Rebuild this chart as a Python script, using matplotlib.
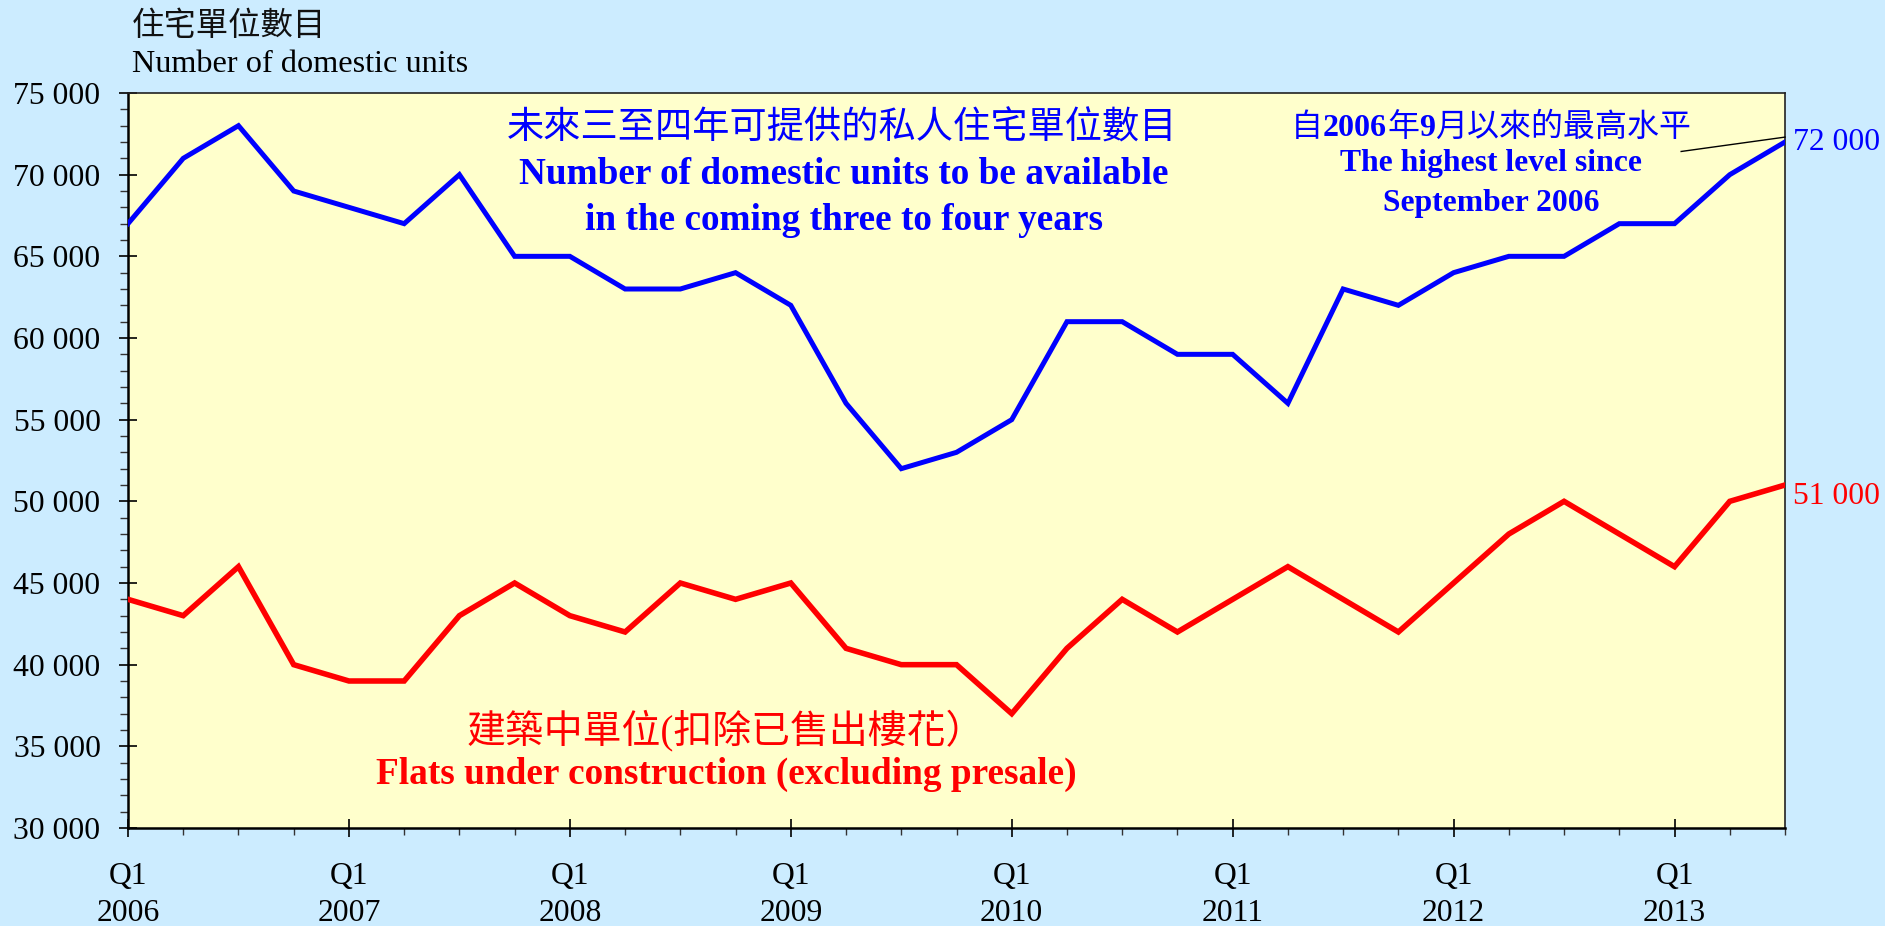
import matplotlib
matplotlib.use("Agg")
import matplotlib.pyplot as plt
from matplotlib.ticker import FixedLocator, MultipleLocator, FuncFormatter

# ---- data ----
years = [2006, 2007, 2008, 2009, 2010, 2011, 2012, 2013]
periods = [f"{y} Q{q}" for y in years for q in range(1, 5)][:31]
available = [67000, 71000, 73000, 69000,
             68000, 67000, 70000, 65000,
             65000, 63000, 63000, 64000,
             62000, 56000, 52000, 53000,
             55000, 61000, 61000, 59000,
             59000, 56000, 63000, 62000,
             64000, 65000, 65000, 67000,
             67000, 70000, 72000]
under_construction = [44000, 43000, 46000, 40000,
                      39000, 39000, 43000, 45000,
                      43000, 42000, 45000, 44000,
                      45000, 41000, 40000, 40000,
                      37000, 41000, 44000, 42000,
                      44000, 46000, 44000, 42000,
                      45000, 48000, 50000, 48000,
                      46000, 50000, 51000]
x_tick_labels = [f"Q1\n{y}" for y in years]

# ---- style ----
BG = "#CCECFF"
PLOT_BG = "#FFFFCC"
BLUE = "#0000FF"
RED = "#FF0000"
SERIF = ["Liberation Serif", "Noto Sans CJK TC"]
CJK = ["Noto Sans CJK TC", "Liberation Serif"]
plt.rcParams["font.family"] = SERIF

W, H = 1885, 926
fig = plt.figure(figsize=(W / 100, H / 100), dpi=100, facecolor=BG)
L, R, T, B = 128, 1785, 93, 828
ax = fig.add_axes([L / W, 1 - B / H, (R - L) / W, (B - T) / H])
ax.set_facecolor(PLOT_BG)

x = list(range(len(periods)))
ax.plot(x, available, color=BLUE, lw=3.6, solid_joinstyle="miter", zorder=3)
ax.plot(x, under_construction, color=RED, lw=4.0, solid_joinstyle="miter", zorder=3)

ax.set_xlim(0, len(periods) - 1)
ax.set_ylim(30000, 75000)

# y axis
ax.yaxis.set_major_locator(MultipleLocator(5000))
ax.yaxis.set_minor_locator(MultipleLocator(1000))
ax.yaxis.set_major_formatter(FuncFormatter(lambda v, p: f"{int(v):,}".replace(",", " ")))
ax.tick_params(axis="y", which="major", direction="inout", length=13.5, width=1.2,
               labelsize=22.8, pad=13, colors="black")
ax.tick_params(axis="y", which="minor", direction="out", length=5.5, width=1.0, color="#333333")

# x axis
major_x = [i for i in x if i % 4 == 0]
minor_x = [i for i in x if i % 4 != 0]
ax.xaxis.set_major_locator(FixedLocator(major_x))
ax.xaxis.set_minor_locator(FixedLocator(minor_x))
ax.set_xticklabels(x_tick_labels, linespacing=1.33)
ax.tick_params(axis="x", which="major", direction="inout", length=13.5, width=1.2,
               labelsize=22.8, pad=18)
ax.tick_params(axis="x", which="minor", direction="out", length=5, width=1.0, color="#333333")

for s in ["left", "bottom"]:
    ax.spines[s].set_linewidth(1.8)
    ax.spines[s].set_color("black")
for s in ["top", "right"]:
    ax.spines[s].set_linewidth(1.2)
    ax.spines[s].set_color("#222222")

# axis title (top-left)
fig.text(132 / W, 1 - 26 / H, "住宅單位數目", family=CJK, fontsize=23.3,
         ha="left", va="center", color="#111111")
fig.text(132 / W, 1 - 65 / H, "Number of domestic units", fontsize=23.2,
         ha="left", va="center", color="black")

# blue series label
fig.text(842 / W, 1 - 128 / H, "未來三至四年可提供的私人住宅單位數目", family=CJK,
         fontsize=26.8, ha="center", va="center", color=BLUE)
fig.text(844 / W, 1 - 175 / H, "Number of domestic units to be available",
         fontsize=26.8, weight="bold", ha="center", va="center", color=BLUE)
fig.text(844 / W, 1 - 221 / H, "in the coming three to four years",
         fontsize=26.8, weight="bold", ha="center", va="center", color=BLUE)

# highest level annotation: mixed regular CJK + bold digits, laid out piecewise
pieces = [("自", CJK, "normal"), ("2006", SERIF, "bold"), ("年", CJK, "normal"),
          ("9", SERIF, "bold"), ("月以來的最高水平", CJK, "normal")]
renderer = fig.canvas.get_renderer()
objs = []
for s, fam, wt in pieces:
    t = fig.text(0, 1 - 136 / H, s, family=fam, weight=wt, fontsize=23,
                 ha="left", va="baseline", color=BLUE)
    objs.append(t)
widths = [o.get_window_extent(renderer).width for o in objs]
total = sum(widths)
start = 1491 - total / 2
for o, w in zip(objs, widths):
    o.set_x(start / W)
    start += w

fig.text(1491 / W, 1 - 164 / H, "The highest level since", fontsize=22.8,
         weight="bold", ha="center", va="center", color=BLUE)
fig.text(1491 / W, 1 - 203 / H, "September 2006", fontsize=22.8,
         weight="bold", ha="center", va="center", color=BLUE)
ax.plot([28.12, len(periods) - 1], [71420, 72300], color="black", lw=1.0,
        clip_on=False, zorder=4)

# red series label
fig.text(726 / W, 1 - 730 / H, "建築中單位(扣除已售出樓花）", family=SERIF,
         fontsize=28, ha="center", va="center", color=RED)
fig.text(726 / W, 1 - 774 / H, "Flats under construction (excluding presale)",
         fontsize=26.8, weight="bold", ha="center", va="center", color=RED)

# end value labels
ax.annotate(f"{available[-1]:,}".replace(",", " "), xy=(x[-1], available[-1]),
            xytext=(6, 0), textcoords="offset points", ha="left", va="center",
            fontsize=22.8, color=BLUE, annotation_clip=False)
ax.annotate(f"{under_construction[-1]:,}".replace(",", " "), xy=(x[-1], under_construction[-1]),
            xytext=(6, -8), textcoords="offset points", ha="left", va="center",
            fontsize=22.8, color=RED, annotation_clip=False)

fig.savefig("out.png", dpi=100, facecolor=BG)
